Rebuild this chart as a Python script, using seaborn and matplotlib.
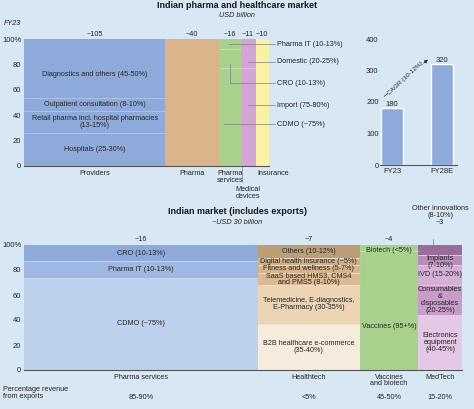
import numpy as np
import matplotlib.pyplot as plt
import seaborn as sns
import warnings
warnings.filterwarnings('ignore')

# --- CONFIG ---
sns.set_theme(style="white")
plt.rcParams['font.family'] = ['Liberation Sans', 'DejaVu Sans']
BG = '#d7e7f3'
TXT = '#262626'
LEAD = '#808080'
FS = 5.2

# --- DATA: FY23 market, USD billion ---
top_markets = ['Providers', 'Pharma', 'Pharma\nservices', 'Medical\ndevices', 'Insurance']
top_sizes = [105, 40, 16, 11, 10]
top_colors = ['#8eaadb', '#dcb48c', '#a9d18e', '#d4a4d6', '#f8f1a6']
top_sep = ['#b3c6e8', '#dcb48c', '#c8e2b6', '#e4c4e5', '#f8f1a6']

providers_shares = [26, 17, 10.5, 46.5]
providers_labels = ['Hospitals (25-30%)', 'Retail pharma incl. hospital pharmacies\n(13-15%)',
                    'Outpatient consultation (8-10%)', 'Diagnostics and others (45-50%)']
pharma_shares = [100]
services_shares = [77, 15, 8]
devices_shares = [77, 23]
insurance_shares = [100]
side_labels = ['Pharma IT (10-13%)', 'Domestic (20-25%)', 'CRO (10-13%)', 'Import (75-80%)', 'CDMO (~75%)']

years = ['FY23', 'FY28E']
market_size = [180, 320]

# --- DATA: Indian market incl. exports ---
exp_markets = ['Pharma services', 'Healthtech', 'Vaccines\nand biotech', 'MedTech']
exp_sizes = [16, 7, 4, 3]
exp_revenue = ['85-90%', '<5%', '45-50%', '15-20%']

ps_shares = [74, 13, 13]
ps_labels = ['CDMO (~75%)', 'Pharma IT (10-13%)', 'CRO (10-13%)']
ps_colors = ['#bdd0ec', '#9fb8e2', '#8eaadb']

ht_shares = [37, 31, 10, 6, 5.5, 10.5]
ht_labels = ['B2B healthcare e-commerce\n(35-40%)', 'Telemedicine, E-diagnostics,\nE-Pharmacy (30-35%)',
             'SaaS based HMS3, CMS4\nand PMS5 (8-10%)', 'Fitness and wellness (5-7%)',
             'Digital health insurance (~5%)', 'Others (10-12%)']
ht_colors = ['#f7ebde', '#edd4b4', '#dcbb94', '#d6b48c', '#d0ae86', '#bb9e78']

vb_shares = [95, 5]
vb_labels = ['Vaccines (95+%)', 'Biotech (<5%)']
vb_colors = ['#a9d18e', '#a9d18e']

mt_shares = [44, 24, 16, 8, 8]
mt_labels = ['Electronics\nequipment\n(40-45%)', 'Consumables\n&\ndisposables\n(20-25%)',
             'IVD (15-20%)', 'Implants\n(7-10%)', '']
mt_colors = ['#e5c7e6', '#c99bcb', '#d4b0d5', '#b98cba', '#9b6b9d']


def mekko(ax, sizes, shares_list, colors_list, sep_list):
    """stacked variable-width columns; returns left edges"""
    lefts = np.concatenate([[0], np.cumsum(sizes)[:-1]])
    for left, size, shares, colors, sep in zip(lefts, sizes, shares_list, colors_list, sep_list):
        bottoms = np.concatenate([[0], np.cumsum(shares)[:-1]])
        ax.bar(np.full(len(shares), left), shares, width=size, bottom=bottoms,
               align='edge', color=colors, linewidth=0)
        for b in bottoms[1:]:
            ax.hlines(b, left, left + size, color=sep, lw=0.6)
    return lefts


def pct_axis(ax):
    ax.set_ylim(0, 100)
    ax.set_yticks([0, 20, 40, 60, 80, 100])
    ax.set_yticklabels(['0', '20', '40', '60', '80', '100%'], fontsize=FS + 0.3, color=TXT)
    ax.tick_params(axis='y', length=0, pad=2)
    ax.set_xticks([])
    for s in ['left', 'top', 'right']:
        ax.spines[s].set_visible(False)
    ax.spines['bottom'].set_color('#555555')
    ax.spines['bottom'].set_linewidth(0.8)
    ax.set_facecolor(BG)


W, H = 474, 409
fig = plt.figure(figsize=(W / 100, H / 100), dpi=100, facecolor=BG)

def px_axes(x0, x1, ytop, ybot):
    return fig.add_axes([x0 / W, 1 - ybot / H, (x1 - x0) / W, (ybot - ytop) / H])

# ==============================================================
# TOP LEFT — FY23 market mekko
# ==============================================================
ax1 = px_axes(24, 269, 39, 166)
pct_axis(ax1)
top_shares = [providers_shares, pharma_shares, services_shares, devices_shares, insurance_shares]
top_cols = [[c] * len(s) for c, s in zip(top_colors, top_shares)]
lefts = mekko(ax1, top_sizes, top_shares, top_cols, top_sep)
ax1.set_xlim(0, sum(top_sizes))
centers = lefts + np.array(top_sizes) / 2

for cx, size in zip(centers, top_sizes):
    ax1.annotate(f'~{size}', (cx, 100), xytext=(0, 3.6), textcoords='offset points',
                 ha='center', va='center', fontsize=FS, color=TXT)

bots = np.cumsum([0] + providers_shares[:-1])
for b, s, lab in zip(bots, providers_shares, providers_labels):
    y = b + s / 2
    if lab.startswith('Diagnostics'):
        y = 72
    ax1.text(centers[0], y, lab, ha='center', va='center', fontsize=FS,
             color=TXT, linespacing=1.0)

# x labels
for i, lab in enumerate(top_markets):
    if i == 3:
        ax1.annotate(lab, (centers[i], 0), xytext=(0, -14.5), textcoords='offset points',
                     ha='center', va='top', fontsize=FS, color=TXT, linespacing=0.95,
                     annotation_clip=False)
        ax1.plot([lefts[i] + 1, lefts[i] + 1], [0, -12.5], color=LEAD, lw=0.5, clip_on=False)
    elif i == 4:
        ax1.annotate(lab, (lefts[i] + 1.5, 0), xytext=(0, -3), textcoords='offset points',
                     ha='left', va='top', fontsize=FS, color=TXT, annotation_clip=False)
    else:
        ax1.annotate(lab, (centers[i], 0), xytext=(0, -3), textcoords='offset points',
                     ha='center', va='top', fontsize=FS, color=TXT, linespacing=0.95,
                     annotation_clip=False)

# leader labels for pharma services / medical devices
lab_x = sum(top_sizes) + 6
line_end = sum(top_sizes) + 4.5
ps_c, md_c = centers[2], centers[3]
side_y = [96, 82, 65, 48, 33]
side_anchor = [ps_c - 1, md_c, ps_c, md_c, ps_c - 4.5]
for lab, y, ax0 in zip(side_labels, side_y, side_anchor):
    ax1.plot([ax0, line_end], [y, y], color=LEAD, lw=0.5, clip_on=False)
    ax1.text(lab_x, y, lab, ha='left', va='center', fontsize=FS, color=TXT, clip_on=False)
ax1.plot([ps_c, ps_c], [65, 80], color=LEAD, lw=0.5, clip_on=False)

# ==============================================================
# TOP RIGHT — market size FY23 vs FY28E
# ==============================================================
ax2 = px_axes(380, 457, 39, 165)
sns.barplot(x=years, y=market_size, color='#8eaadb', saturation=1, width=0.44, ax=ax2)
ax2.set_xlim(-0.24, 1.3)
ax2.set_ylim(0, 400)
ax2.set_yticks([0, 100, 200, 300, 400])
ax2.set_yticklabels(['0', '100', '200', '300', '400'], fontsize=FS + 0.3, color=TXT)
ax2.tick_params(axis='y', length=0, pad=1)
ax2.tick_params(axis='x', length=0, pad=2, labelsize=FS + 0.3, colors=TXT)
for s in ['left', 'top', 'right']:
    ax2.spines[s].set_visible(False)
ax2.spines['bottom'].set_color('#555555')
ax2.spines['bottom'].set_linewidth(0.8)
ax2.set_facecolor(BG)
ax2.bar_label(ax2.containers[0], fmt='%d', padding=0, fontsize=FS + 0.3, color=TXT)
ax2.annotate('', xy=(0.76, 340), xytext=(-0.2, 212),
             arrowprops=dict(arrowstyle='-|>', color='#222222', lw=0.5, mutation_scale=5),
             annotation_clip=False)
ax2.text(0.26, 276, 'CAGR (10-12%)', rotation=43, ha='center', va='center',
         fontsize=FS - 0.6, color=TXT, rotation_mode='anchor',
         bbox=dict(fc=BG, ec='none', pad=0.2))

# ==============================================================
# BOTTOM — Indian market incl. exports
# ==============================================================
ax3 = px_axes(24, 462, 245, 370)
pct_axis(ax3)
exp_shares = [ps_shares, ht_shares, vb_shares, mt_shares]
exp_cols = [ps_colors, ht_colors, vb_colors, mt_colors]
exp_sep = ['#c9d8ef', '#efe3d3', '#c8e2b6', '#e6cde7']
lefts3 = mekko(ax3, exp_sizes, exp_shares, exp_cols, exp_sep)
ax3.set_xlim(0, sum(exp_sizes))
centers3 = lefts3 + np.array(exp_sizes) / 2

exp_labels = [ps_labels, ht_labels, vb_labels, mt_labels]
for cx, shares, labs in zip(centers3, exp_shares, exp_labels):
    bots = np.cumsum([0] + shares[:-1])
    for b, s, lab in zip(bots, shares, labs):
        y = b + s / 2
        if lab.startswith('Vaccines'):
            y = 35
        if lab.startswith('Biotech'):
            y = 95.5
        if lab.startswith('Implants'):
            y = 86.5
        ax3.text(cx, y, lab, ha='center', va='center', fontsize=FS, color=TXT,
                 linespacing=0.95)

for i, (cx, size) in enumerate(zip(centers3, exp_sizes)):
    off = 16.5 if i == 3 else 4.3
    ax3.annotate(f'~{size}', (cx, 100), xytext=(0, off), textcoords='offset points',
                 ha='center', va='center', fontsize=FS, color=TXT, annotation_clip=False)
ax3.annotate('Other innovations\n(8-10%)', (centers3[3], 100), xytext=(0, 24),
             textcoords='offset points', ha='center', va='center', fontsize=FS,
             color=TXT, linespacing=0.95, annotation_clip=False)
ax3.plot([lefts3[3] + 1, lefts3[3] + 1], [100, 104.5], color=LEAD, lw=0.5, clip_on=False)

for cx, lab, rev in zip(centers3, exp_markets, exp_revenue):
    ax3.annotate(lab, (cx, 0), xytext=(0, -2.8), textcoords='offset points',
                 ha='center', va='top', fontsize=FS, color=TXT, linespacing=0.9,
                 annotation_clip=False)
    ax3.annotate(rev, (cx, 0), xytext=(0, -19.5), textcoords='offset points',
                 ha='center', va='center', fontsize=FS, color=TXT, annotation_clip=False)

fig.text(3 / W, 1 - 393 / H, 'Percentage revenue\nfrom exports', ha='left', va='center',
         fontsize=FS, color=TXT, linespacing=0.95)

# --- titles ---
fig.text(0.5, 1 - 6 / H, 'Indian pharma and healthcare market', ha='center', va='center',
         fontsize=6.5, fontweight='bold', color='#1a1a1a')
fig.text(0.5, 1 - 15.5 / H, 'USD billion', ha='center', va='center', fontsize=FS,
         style='italic', color=TXT)
fig.text(12 / W, 1 - 23.5 / H, 'FY23', ha='center', va='center', fontsize=FS,
         style='italic', color=TXT)
fig.text(0.5, 1 - 212 / H, 'Indian market (includes exports)', ha='center', va='center',
         fontsize=6.5, fontweight='bold', color='#1a1a1a')
fig.text(0.5, 1 - 223 / H, '~USD 30 billion', ha='center', va='center', fontsize=FS,
         style='italic', color=TXT)

plt.savefig('out.png', dpi=100, facecolor=BG)
plt.close()
